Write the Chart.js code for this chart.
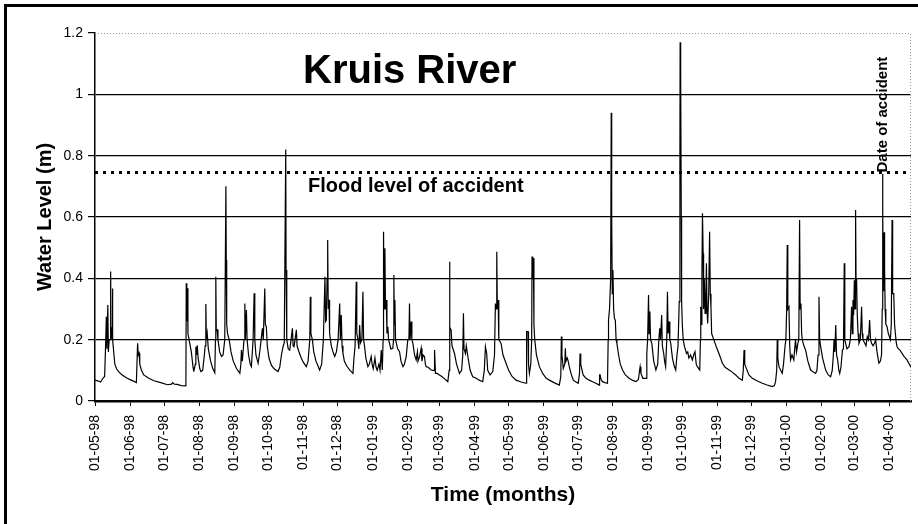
<!DOCTYPE html>
<html>
<head>
<meta charset="utf-8">
<title>Kruis River</title>
<script src="https://cdn.jsdelivr.net/npm/chart.js@4.4.1/dist/chart.umd.min.js"></script>
<style>
    body { margin: 0; background: #fff; }
    canvas { display: block; }
</style>
</head>
<body>
<canvas id="myChart" width="918" height="524"></canvas>
<script>
// days counted from 01-05-98
const monthStartDays = [0, 31, 61, 92, 123, 153, 184, 214, 245, 276, 304, 335,
    365, 396, 426, 457, 488, 518, 549, 579, 610, 641, 670, 701];

const monthLabels = ['01-05-98', '01-06-98', '01-07-98', '01-08-98', '01-09-98', '01-10-98',
    '01-11-98', '01-12-98', '01-01-99', '01-02-99', '01-03-99', '01-04-99',
    '01-05-99', '01-06-99', '01-07-99', '01-08-99', '01-09-99', '01-10-99',
    '01-11-99', '01-12-99', '01-01-00', '01-02-00', '01-03-00', '01-04-00'];

const days = [
    0, 3, 5, 7, 8.5, 9.5, 10, 10.5, 11.3, 11.8,
    12.5, 13.5, 13.8, 14.2, 15, 15.3, 15.8, 16.5, 17.5, 19,
    21, 24, 28, 32, 36.5, 37.6, 38.2, 39, 39.5, 41,
    43, 47, 52, 58, 64, 67.5, 68.5, 70, 72.6, 76,
    80.2, 80.5, 81, 81.6, 82, 83.5, 85, 86.5, 87.2, 88.5,
    89, 89.6, 90.2, 91, 92.5, 93.4, 95, 96.5, 97.2, 97.8,
    98.3, 99, 100, 102, 104, 105.7, 106.3, 106.6, 107, 107.8,
    108.5, 110, 111.6, 113, 114.5, 115.5, 115.8, 116.2, 117, 118.4,
    120, 122, 125, 127.8, 128.7, 129.2, 130, 131.5, 132.2, 132.7,
    133.6, 134.2, 135.5, 137, 138, 139.5, 140.4, 141, 142, 143.9,
    145, 146, 147.7, 148.5, 149.8, 150.3, 151.2, 152, 153.5, 155.6,
    158, 161.5, 163, 164.5, 165.9, 167, 168.3, 168.6, 169.2, 170.5,
    171.8, 173, 174.2, 174.8, 175.6, 176.5, 177.7, 178.3, 180, 182,
    184, 186.5, 188, 189.5, 190, 190.5, 191.8, 193, 195, 198.2,
    200, 201.5, 202.9, 203.5, 204.1, 204.8, 205.3, 205.8, 206.5, 207,
    208.5, 210, 211.5, 213, 214.5, 215.9, 216.5, 217.3, 218, 218.8,
    220, 222, 225, 227.6, 228.5, 229.5, 230.5, 231, 232, 232.8,
    233.5, 234.3, 235.5, 236.4, 237, 237.9, 239, 240.8, 242, 243.7,
    244.5, 245.5, 247, 248, 249, 250.5, 251.5, 252.6, 253.5, 254.2,
    254.6, 255, 255.8, 256.3, 257, 257.6, 258.4, 259, 259.9, 261,
    262.8, 263.4, 263.7, 264.1, 264.6, 265.2, 267, 268.7, 270, 271.7,
    273, 274.6, 276, 277, 277.5, 278, 279, 279.6, 280.5, 282,
    283.4, 284.5, 285, 286.4, 287.8, 288.5, 289.5, 290.7, 291.5, 292.2,
    294, 296.6, 298, 299.3, 299.6, 300.4, 302, 303.9, 306, 308.5,
    311.3, 312.5, 312.8, 313.2, 314.2, 315, 317.2, 319, 321.6, 323.5,
    324.5, 325.1, 325.6, 326.9, 327.6, 329, 331, 333.3, 336, 339,
    342.1, 343.5, 344.5, 345.6, 346.5, 348.6, 351, 352.5, 353.3, 354,
    354.5, 355, 355.7, 356.3, 358.3, 360, 362.7, 365, 368, 371.5,
    376, 380.3, 380.7, 381, 382.1, 382.5, 383.3, 384.5, 385.3, 385.6,
    386.2, 386.8, 387.3, 388, 389.5, 392.1, 395, 398, 400.9, 405,
    409.7, 411, 411.5, 412, 413.2, 414.5, 415, 415.6, 416.7, 417.5,
    418.5, 420, 422, 424, 426.4, 427.5, 428, 428.6, 430.7, 433,
    436, 439, 442, 444.8, 445.2, 445.7, 446.5, 447.8, 450, 452.2,
    452.8, 453.1, 454, 455, 455.5, 455.9, 456.4, 457, 457.6, 458.3,
    459.1, 459.8, 460.5, 462, 463.5, 465.5, 468, 471, 474, 477.3,
    479.5, 480.5, 481, 481.7, 483.4, 486.3, 486.9, 487.6, 488.4, 488.9,
    489.6, 490.2, 491.3, 493, 494.9, 496.5, 497.5, 498.3, 499, 500,
    500.6, 501.8, 502.6, 503.5, 504.5, 505.1, 505.7, 506.5, 507.2, 508,
    509.5, 511, 512.4, 513.5, 514.4, 515.5, 516.1, 516.3, 516.6, 516.9,
    517.3, 517.6, 518.2, 519, 520, 521.9, 523, 524, 525.5, 527.1,
    528.2, 529.4, 530.5, 531.5, 533.6, 534.2, 534.5, 535, 535.5, 536,
    536.6, 537, 537.6, 538.3, 539, 539.5, 540, 540.6, 541.5, 542.3,
    542.9, 543.5, 544.1, 546, 548.2, 550, 552, 553.6, 556, 559.5,
    562, 565.3, 568, 571.2, 572, 572.7, 573.3, 574.1, 577, 580,
    584, 588.8, 593, 597.6, 599.5, 600.5, 601.5, 602, 602.5, 603.5,
    605, 606.4, 607.5, 608.8, 609.6, 610.3, 610.8, 611.3, 612.3, 613,
    613.7, 615, 616.6, 617.4, 618.1, 619, 620.2, 621, 621.7, 622.2,
    622.9, 623.5, 624.1, 625.5, 627, 629, 631.4, 633.5, 635.8, 637,
    638, 638.8, 639.4, 640.3, 642, 644.7, 647, 649.1, 650.5, 651.5,
    652.1, 652.8, 653.6, 654.3, 655.3, 656.3, 657.1, 658.2, 659.5, 660.4,
    661.1, 661.6, 662.3, 663.5, 665.3, 666.5, 667.6, 668.2, 668.8, 669.4,
    670, 670.6, 671.1, 671.5, 672, 672.6, 673.3, 674.1, 675.3, 676.4,
    677, 677.6, 679, 680.3, 681.4, 682.5, 683.5, 684.3, 685.2, 686.5,
    688, 688.8, 690, 691.7, 693, 694, 694.6, 694.9, 695.2, 695.5,
    695.8, 696.3, 696.7, 697.2, 697.8, 698.9, 700, 701.8, 702.6, 703.3,
    703.8, 704.8, 705.5, 706.2, 707, 707.7, 709, 710.5, 712.1, 714,
    716.5, 718.5, 720
];

const waterLevel = [
    0.068, 0.065, 0.062, 0.074, 0.08, 0.2, 0.275, 0.17, 0.313, 0.16,
    0.2, 0.2, 0.422, 0.2, 0.24, 0.367, 0.2, 0.16, 0.12, 0.105,
    0.095, 0.085, 0.075, 0.068, 0.06, 0.188, 0.15, 0.156, 0.12, 0.1,
    0.085, 0.075, 0.066, 0.06, 0.053, 0.055, 0.06, 0.055, 0.054, 0.05,
    0.049, 0.384, 0.26, 0.368, 0.22, 0.19, 0.16, 0.11, 0.096, 0.12,
    0.177, 0.15, 0.182, 0.14, 0.105, 0.096, 0.1, 0.15, 0.18, 0.316,
    0.2, 0.22, 0.17, 0.13, 0.105, 0.092, 0.2, 0.405, 0.23, 0.232,
    0.2, 0.16, 0.145, 0.15, 0.2, 0.7, 0.46, 0.25, 0.22, 0.2,
    0.16, 0.13, 0.105, 0.09, 0.12, 0.166, 0.13, 0.2, 0.318, 0.2,
    0.297, 0.2, 0.15, 0.12, 0.112, 0.2, 0.351, 0.2, 0.15, 0.123,
    0.15, 0.18, 0.237, 0.2, 0.367, 0.25, 0.242, 0.18, 0.14, 0.117,
    0.105, 0.096, 0.11, 0.15, 0.177, 0.19, 0.82, 0.427, 0.2, 0.17,
    0.166, 0.2, 0.237, 0.18, 0.177, 0.2, 0.232, 0.18, 0.16, 0.14,
    0.125, 0.112, 0.13, 0.2, 0.34, 0.22, 0.2, 0.16, 0.13, 0.101,
    0.12, 0.2, 0.405, 0.26, 0.264, 0.4, 0.525, 0.3, 0.33, 0.22,
    0.18, 0.16, 0.145, 0.16, 0.2, 0.318, 0.2, 0.28, 0.18, 0.155,
    0.13, 0.115, 0.1, 0.09, 0.14, 0.18, 0.389, 0.22, 0.2, 0.17,
    0.248, 0.19, 0.2, 0.356, 0.2, 0.177, 0.14, 0.112, 0.12, 0.145,
    0.12, 0.105, 0.14, 0.11, 0.1, 0.12, 0.1, 0.166, 0.101, 0.2,
    0.552, 0.3, 0.498, 0.3, 0.329, 0.22, 0.242, 0.2, 0.188, 0.17,
    0.172, 0.2, 0.411, 0.25, 0.329, 0.2, 0.17, 0.161, 0.13, 0.112,
    0.12, 0.145, 0.2, 0.2, 0.318, 0.2, 0.259, 0.2, 0.188, 0.15,
    0.134, 0.16, 0.13, 0.145, 0.172, 0.13, 0.15, 0.145, 0.12, 0.112,
    0.11, 0.101, 0.1, 0.1, 0.166, 0.09, 0.09, 0.085, 0.08, 0.072,
    0.063, 0.1, 0.454, 0.24, 0.232, 0.18, 0.155, 0.12, 0.09, 0.1,
    0.15, 0.286, 0.17, 0.155, 0.18, 0.145, 0.1, 0.079, 0.075, 0.068,
    0.063, 0.1, 0.177, 0.155, 0.1, 0.085, 0.096, 0.15, 0.318, 0.3,
    0.487, 0.3, 0.329, 0.2, 0.188, 0.15, 0.123, 0.1, 0.08, 0.068,
    0.062, 0.058, 0.15, 0.226, 0.226, 0.12, 0.09, 0.12, 0.2, 0.471,
    0.4, 0.466, 0.25, 0.2, 0.15, 0.112, 0.09, 0.075, 0.068, 0.06,
    0.052, 0.08, 0.21, 0.15, 0.106, 0.12, 0.172, 0.13, 0.14, 0.13,
    0.112, 0.09, 0.068, 0.063, 0.058, 0.09, 0.155, 0.12, 0.085, 0.075,
    0.068, 0.063, 0.058, 0.052, 0.085, 0.085, 0.07, 0.063, 0.06, 0.058,
    0.2, 0.264, 0.3, 0.4, 0.94, 0.6, 0.35, 0.427, 0.3, 0.27,
    0.264, 0.2, 0.188, 0.15, 0.12, 0.101, 0.085, 0.075, 0.068, 0.063,
    0.07, 0.1, 0.112, 0.09, 0.074, 0.074, 0.155, 0.2, 0.346, 0.22,
    0.292, 0.2, 0.188, 0.13, 0.101, 0.12, 0.2, 0.237, 0.2, 0.28,
    0.18, 0.155, 0.13, 0.112, 0.2, 0.356, 0.22, 0.259, 0.2, 0.188,
    0.14, 0.115, 0.101, 0.15, 0.177, 0.324, 0.8, 1.17, 0.9, 1.07,
    0.6, 0.324, 0.25, 0.2, 0.18, 0.155, 0.16, 0.14, 0.15, 0.134,
    0.15, 0.161, 0.12, 0.112, 0.101, 0.2, 0.307, 0.25, 0.4, 0.612,
    0.481, 0.3, 0.4, 0.286, 0.35, 0.449, 0.3, 0.253, 0.35, 0.552,
    0.35, 0.307, 0.22, 0.2, 0.177, 0.16, 0.14, 0.123, 0.11, 0.101,
    0.095, 0.085, 0.075, 0.068, 0.1, 0.166, 0.12, 0.112, 0.085, 0.074,
    0.066, 0.058, 0.052, 0.047, 0.05, 0.063, 0.1, 0.2, 0.14, 0.112,
    0.1, 0.09, 0.12, 0.177, 0.2, 0.3, 0.509, 0.3, 0.307, 0.18,
    0.134, 0.15, 0.134, 0.17, 0.2, 0.16, 0.188, 0.2, 0.59, 0.3,
    0.318, 0.22, 0.2, 0.18, 0.166, 0.13, 0.101, 0.095, 0.09, 0.1,
    0.15, 0.34, 0.2, 0.177, 0.14, 0.101, 0.085, 0.079, 0.1, 0.15,
    0.2, 0.16, 0.248, 0.15, 0.134, 0.1, 0.09, 0.11, 0.166, 0.17,
    0.449, 0.2, 0.188, 0.17, 0.177, 0.2, 0.307, 0.22, 0.329, 0.28,
    0.394, 0.3, 0.623, 0.4, 0.394, 0.28, 0.22, 0.188, 0.2, 0.307,
    0.22, 0.2, 0.19, 0.18, 0.21, 0.2, 0.264, 0.2, 0.188, 0.18,
    0.19, 0.2, 0.16, 0.123, 0.13, 0.15, 0.3, 0.74, 0.63, 0.36,
    0.45, 0.55, 0.43, 0.3, 0.25, 0.242, 0.22, 0.2, 0.25, 0.59,
    0.35, 0.35, 0.25, 0.22, 0.19, 0.177, 0.17, 0.165, 0.155, 0.145,
    0.134, 0.12, 0.11
];

const floodLevel = 0.745;
const accidentDay = 695;

Chart.defaults.font.family = "'Liberation Sans', Arial, sans-serif";
Chart.defaults.color = '#000';

const annotations = {
    id: 'annotations',
    beforeDraw (chart) {
        const ctx = chart.ctx;
        ctx.save();
        ctx.fillStyle = '#fff';
        ctx.fillRect(0, 0, chart.width, chart.height);
        // outer frame, only top and left edges are visible
        ctx.fillStyle = '#000';
        ctx.fillRect(4, 4, 3, chart.height);
        ctx.fillRect(4, 4, chart.width, 3);
        ctx.restore();
    },
    afterDraw (chart) {
        const ctx = chart.ctx;
        const area = chart.chartArea;
        const xScale = chart.scales.x;
        const yScale = chart.scales.y;

        ctx.save();
        ctx.strokeStyle = '#9a9a9a';
        ctx.lineWidth = 1;
        ctx.setLineDash([1, 2]);
        ctx.beginPath();
        ctx.moveTo(area.left, area.top + 0.5);
        ctx.lineTo(area.right - 0.5, area.top + 0.5);
        ctx.lineTo(area.right - 0.5, area.bottom);
        ctx.stroke();
        ctx.setLineDash([]);

        ctx.fillStyle = '#000';
        ctx.textBaseline = 'alphabetic';
        ctx.textAlign = 'left';
        ctx.font = "bold 40px 'Liberation Sans', Arial, sans-serif";
        ctx.fillText('Kruis River', 303, 83);

        const floodY = yScale.getPixelForValue(floodLevel);
        ctx.font = "bold 20px 'Liberation Sans', Arial, sans-serif";
        ctx.fillText('Flood level of accident', 308, floodY + 19);

        ctx.font = "bold 15px 'Liberation Sans', Arial, sans-serif";
        ctx.translate(xScale.getPixelForValue(accidentDay), floodY);
        ctx.rotate(-Math.PI / 2);
        ctx.textBaseline = 'middle';
        ctx.fillText('Date of accident', 0, 0);
        ctx.restore();
    }
};

const config = {
    type: 'line',
    data: {
        datasets: [{
            label: 'Water level',
            data: days.map((d, i) => ({ x: d, y: waterLevel[i] })),
            borderColor: '#000',
            borderWidth: 1.2,
            pointRadius: 0,
            tension: 0
        }, {
            label: 'Flood level of accident',
            data: [{ x: 0, y: floodLevel }, { x: 720, y: floodLevel }],
            borderColor: '#000',
            borderWidth: 3,
            borderDash: [3, 5],
            pointRadius: 0
        }]
    },
    options: {
        responsive: false,
        animation: false,
        layout: { padding: { top: 33, right: 7, left: 0, bottom: 0 } },
        plugins: {
            legend: { display: false },
            tooltip: { enabled: false }
        },
        scales: {
            x: {
                type: 'linear',
                min: 0,
                max: 720,
                afterBuildTicks: scale => {
                    scale.ticks = monthStartDays.map(v => ({ value: v }));
                },
                afterFit: scale => { scale.height = 123; },
                ticks: {
                    autoSkip: false,
                    minRotation: 90,
                    maxRotation: 90,
                    padding: 9,
                    font: { size: 14 },
                    callback: (value, index) => monthLabels[index]
                },
                grid: {
                    drawOnChartArea: false,
                    tickLength: 5,
                    tickColor: '#000'
                },
                border: { color: '#000', width: 2.5 },
                title: {
                    display: true,
                    text: 'Time (months)',
                    font: { size: 21, weight: 'bold' },
                    padding: { bottom: 16 }
                }
            },
            y: {
                min: 0,
                max: 1.2,
                afterFit: scale => { scale.width = 95; },
                ticks: {
                    stepSize: 0.2,
                    padding: 5,
                    font: { size: 14 },
                    callback: value => String(Math.round(value * 10) / 10)
                },
                grid: {
                    color: ctx => (ctx.tick && ctx.tick.value > 0.1 && ctx.tick.value < 1.1) ? '#000' : 'rgba(0,0,0,0)',
                    lineWidth: 1.2,
                    tickLength: 7,
                    tickColor: '#000'
                },
                border: { color: '#000', width: 1.5 },
                title: {
                    display: true,
                    text: 'Water Level (m)',
                    font: { size: 20, weight: 'bold' },
                    padding: { top: 33 }
                }
            }
        }
    },
    plugins: [annotations]
};

const myChart = new Chart(document.getElementById('myChart'), config);
</script>
</body>
</html>
